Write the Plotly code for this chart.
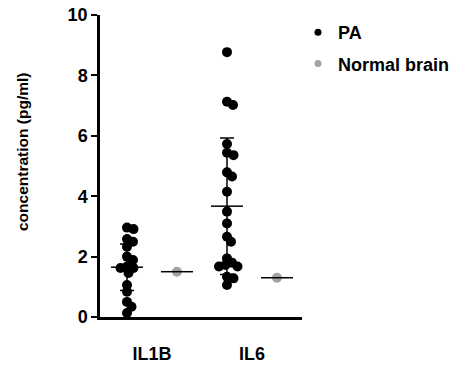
import numpy as np
import plotly.graph_objects as go

# ---------------- data ----------------
categories = ["IL1B", "IL6"]
group_names = ["PA", "Normal brain"]
pa_il1b = [2.96, 2.91, 2.58, 2.49, 2.33, 2.00, 1.89, 1.67, 1.62, 1.62,
           1.46, 1.06, 0.84, 0.50, 0.34, 0.13]
pa_il6 = [8.77, 7.13, 7.02, 5.73, 5.44, 5.36, 4.79, 4.65, 4.15, 3.49,
          3.10, 2.66, 2.49, 1.94, 1.80, 1.72, 1.67, 1.67, 1.33, 1.28, 1.06]
pa_values = [pa_il1b, pa_il6]
pa_mean = [1.65, 3.67]
pa_sd = [0.77, 2.26]
normal_values = [1.50, 1.30]
y_ticks = [0, 2, 4, 6, 8, 10]

# ---------------- style ----------------
FONT = "Arial, 'Liberation Sans', Helvetica, sans-serif"
PA_COLOR = "#000000"
NB_COLOR = "#a3a3a3"
W, H = 455, 368
ML, MR, MT, MB = 100, 153, 15, 51
X_RANGE = [-0.54, 3.5]
Y_RANGE = [0, 10]
PW, PH = W - ML - MR, H - MT - MB
PX_X = PW / (X_RANGE[1] - X_RANGE[0])
PX_Y = PH / (Y_RANGE[1] - Y_RANGE[0])


def swarm_offsets(values, diam=6.5):
    """Deterministic beeswarm spread (in x data units) for a column of points."""
    placed = []
    offs = []
    cands = [0.0]
    for k in range(1, 120):
        cands += [k * 0.5, -k * 0.5]
    for v in values:
        yp = v * PX_Y
        for c in cands:
            if all((c - px) ** 2 + (yp - py) ** 2 >= diam ** 2 for px, py in placed):
                placed.append((c, yp))
                offs.append(c / PX_X)
                break
    return offs


fig = go.Figure()

centers_pa = [2 * i for i in range(len(categories))]
centers_nb = [2 * i + 1 for i in range(len(categories))]

# PA dots
for c, vals in zip(centers_pa, pa_values):
    offs = swarm_offsets(vals)
    fig.add_trace(go.Scatter(
        x=[c + o for o in offs], y=vals, mode="markers",
        marker=dict(color=PA_COLOR, size=10, line=dict(width=0)),
        showlegend=False, cliponaxis=False, hoverinfo="y"))

# Normal brain dots
fig.add_trace(go.Scatter(
    x=centers_nb, y=normal_values, mode="markers",
    marker=dict(color=NB_COLOR, size=10, line=dict(width=0)),
    showlegend=False, cliponaxis=False))

# mean lines
hw = 0.32
mx, my = [], []
for c, m in zip(centers_pa + centers_nb, pa_mean + normal_values):
    mx += [c - hw, c + hw, None]
    my += [m, m, None]
fig.add_trace(go.Scatter(x=mx, y=my, mode="lines",
                         line=dict(color="black", width=1.5),
                         showlegend=False, hoverinfo="skip"))

# SD bars
fig.add_trace(go.Scatter(
    x=centers_pa, y=pa_mean, mode="markers",
    marker=dict(size=0.1, color="black", opacity=0),
    error_y=dict(type="data", array=pa_sd, symmetric=True,
                 color="black", thickness=1.5, width=7),
    showlegend=False, hoverinfo="skip"))

# legend entries
for name, col, grp in zip(group_names, [PA_COLOR, NB_COLOR], ["a", "b"]):
    fig.add_trace(go.Scatter(
        x=[None], y=[None], mode="markers", name=name, legendgroup=grp,
        marker=dict(color=col, size=7)))

fig.update_layout(
    width=W, height=H,
    margin=dict(l=ML, r=MR, t=MT, b=MB, pad=0, autoexpand=False),
    paper_bgcolor="white", plot_bgcolor="white",
    font=dict(family=FONT, color="black"),
    showlegend=True,
    legend=dict(x=(298 - ML) / PW, xanchor="left",
                y=(H - MB - 14) / PH, yanchor="top",
                font=dict(family=FONT, size=18, weight="bold", color="black"),
                tracegroupgap=5, bgcolor="rgba(0,0,0,0)"),
    xaxis=dict(range=X_RANGE, showgrid=False, zeroline=False, automargin=False,
               showline=True, linecolor="black", linewidth=2.5,
               tickvals=[(a + b) / 2 for a, b in zip(centers_pa, centers_nb)],
               ticktext=categories, ticks="",
               tickfont=dict(family=FONT, size=18, weight="bold"),
               ticklabelstandoff=19),
    yaxis=dict(range=Y_RANGE, showgrid=False, zeroline=False, automargin=False,
               showline=True, linecolor="black", linewidth=2.5,
               tickvals=y_ticks, ticks="outside", ticklen=6, tickwidth=2,
               tickcolor="black",
               tickfont=dict(family=FONT, size=18, weight="bold")),
    annotations=[dict(text="concentration (pg/ml)", textangle=-90,
                      xref="paper", yref="paper",
                      x=(22 - ML) / PW,
                      y=(H - MB - 152) / PH,
                      xanchor="center", yanchor="middle",
                      showarrow=False,
                      font=dict(family=FONT, size=15.5, weight="bold"))],
)

fig.write_html("out.html")
